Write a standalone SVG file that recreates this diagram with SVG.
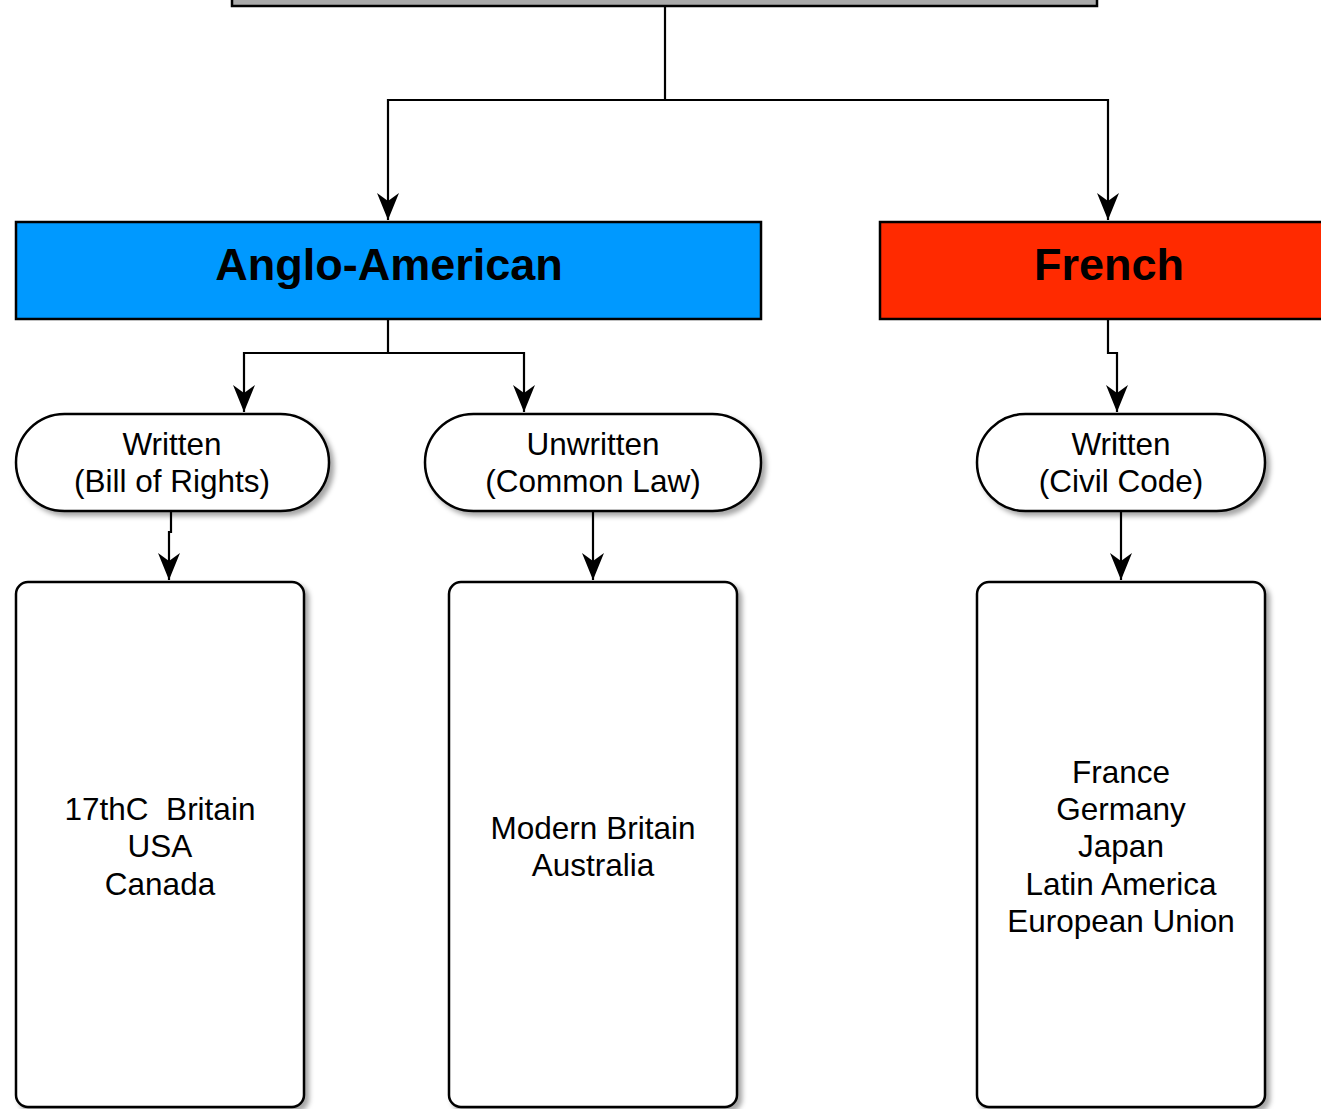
<svg xmlns="http://www.w3.org/2000/svg" width="1321" height="1109" viewBox="0 0 1321 1109">
<style>
.conn{fill:none;stroke:#000;stroke-width:2.2;marker-end:url(#arr)}
.conn2{fill:none;stroke:#000;stroke-width:2.2}
.box{stroke:#000;stroke-width:2.5}
.leaf{fill:#fff;stroke:#000;stroke-width:2.5;filter:url(#sh)}
.t{font-family:"Liberation Sans",Arial,sans-serif;font-size:31.5px;fill:#000;text-anchor:middle}
.h{font-family:"Liberation Sans",Arial,sans-serif;font-size:45px;font-weight:bold;fill:#000;text-anchor:middle}
</style>
<defs>
<marker id="arr" markerUnits="userSpaceOnUse" markerWidth="28" markerHeight="22" viewBox="0 0 28 22" refX="27" refY="11" orient="auto">
<path d="M0,0 L27,11 L0,22 L8,11 Z" fill="#000"/>
</marker>
<filter id="sh" x="-10%" y="-10%" width="130%" height="130%">
<feDropShadow dx="4" dy="4" stdDeviation="2.5" flood-color="#000" flood-opacity="0.35"/>
</filter>
</defs>
<g id="connectors">
<path class="conn2" d="M665,6 V100"/>
<path class="conn" d="M665,100 H388 V220"/>
<path class="conn" d="M665,100 H1108 V220"/>
<path class="conn2" d="M388,319 V353"/>
<path class="conn" d="M388,353 H244 V412"/>
<path class="conn" d="M388,353 H524 V412"/>
<path class="conn" d="M1108,319 V353 H1117 V412"/>
<path class="conn" d="M171,511 V532 H169 V580"/>
<path class="conn" d="M593,511 V580"/>
<path class="conn" d="M1121,511 V580"/>
</g>
<g id="root"><rect class="box" x="232" y="-20" width="865" height="26" fill="#aaaaaa"/></g>
<g id="anglo"><rect class="box" x="16" y="222" width="745" height="97" fill="#0099ff"/><text class="h" x="389" y="280">Anglo-American</text></g>
<g id="french"><rect class="box" x="880" y="222" width="460" height="97" fill="#ff2a00"/><text class="h" x="1109" y="280">French</text></g>
<g id="written-bor"><rect class="leaf" x="16" y="414" width="313" height="97" rx="48.5"/><text class="t" x="172" y="455">Written</text><text class="t" x="172" y="492">(Bill of Rights)</text></g>
<g id="unwritten"><rect class="leaf" x="425" y="414" width="336" height="97" rx="48.5"/><text class="t" x="593" y="455">Unwritten</text><text class="t" x="593" y="492">(Common Law)</text></g>
<g id="written-cc"><rect class="leaf" x="977" y="414" width="288" height="97" rx="48.5"/><text class="t" x="1121" y="455">Written</text><text class="t" x="1121" y="492">(Civil Code)</text></g>
<g id="list1"><rect class="leaf" x="16" y="582" width="288" height="525" rx="12"/><text class="t" x="160" y="820" xml:space="preserve">17thC  Britain</text><text class="t" x="160" y="857">USA</text><text class="t" x="160" y="895">Canada</text></g>
<g id="list2"><rect class="leaf" x="449" y="582" width="288" height="525" rx="12"/><text class="t" x="593" y="839">Modern Britain</text><text class="t" x="593" y="876">Australia</text></g>
<g id="list3"><rect class="leaf" x="977" y="582" width="288" height="525" rx="12"/><text class="t" x="1121" y="783">France</text><text class="t" x="1121" y="820">Germany</text><text class="t" x="1121" y="857">Japan</text><text class="t" x="1121" y="895">Latin America</text><text class="t" x="1121" y="932">European Union</text></g>
</svg>
